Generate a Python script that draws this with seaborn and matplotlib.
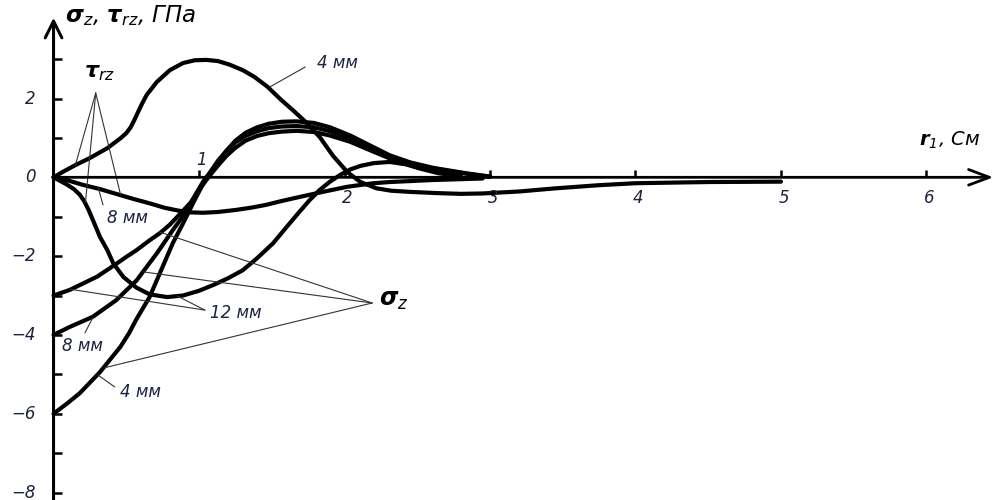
import numpy as np
import pandas as pd
import matplotlib
matplotlib.use("Agg")
import matplotlib.pyplot as plt
import seaborn as sns

# ---------------- data ----------------
tau4_x = [0, 0.07, 0.15, 0.25, 0.37, 0.46, 0.50, 0.53, 0.555, 0.58, 0.61, 0.64, 0.71, 0.80, 0.89, 0.97,
          1.05, 1.13, 1.21, 1.30, 1.38, 1.47, 1.56, 1.64, 1.72, 1.83, 1.92, 2.02, 2.11, 2.22, 2.32, 2.45,
          2.63, 2.80, 2.95, 3.20, 3.45, 3.75, 4.0, 4.5, 5.0]
tau4_y = [0, 0.15, 0.31, 0.49, 0.74, 0.99, 1.12, 1.27, 1.45, 1.65, 1.88, 2.09, 2.42, 2.72, 2.90, 2.97,
          2.98, 2.95, 2.86, 2.72, 2.55, 2.30, 1.98, 1.72, 1.45, 1.02, 0.55, 0.13, -0.12, -0.28, -0.34, -0.37,
          -0.40, -0.42, -0.41, -0.36, -0.28, -0.20, -0.15, -0.12, -0.11]

tau8_x = [0, 0.10, 0.20, 0.32, 0.43, 0.55, 0.66, 0.76, 0.85, 0.94, 1.03, 1.13, 1.25, 1.36, 1.46, 1.57,
          1.69, 1.85, 2.02, 2.20, 2.31, 2.60, 2.95]
tau8_y = [0, -0.08, -0.19, -0.30, -0.42, -0.55, -0.66, -0.77, -0.84, -0.89, -0.90, -0.88, -0.83, -0.77,
          -0.70, -0.60, -0.50, -0.37, -0.24, -0.15, -0.12, -0.07, -0.03]

tau12_x = [0, 0.09, 0.14, 0.18, 0.21, 0.24, 0.27, 0.32, 0.37, 0.41, 0.48, 0.57, 0.66, 0.78, 0.89, 1.00,
           1.10, 1.20, 1.30, 1.40, 1.51, 1.60, 1.68, 1.76, 1.83, 1.90, 1.97, 2.04, 2.11, 2.20, 2.31, 2.42,
           2.52, 2.65, 2.80]
tau12_y = [0, -0.18, -0.30, -0.44, -0.60, -0.82, -1.08, -1.52, -1.85, -2.18, -2.53, -2.80, -2.97, -3.04,
           -3.00, -2.88, -2.73, -2.56, -2.36, -2.05, -1.67, -1.27, -0.92, -0.58, -0.32, -0.11, 0.06, 0.20,
           0.29, 0.36, 0.39, 0.33, 0.22, 0.10, 0.03]

sig4_x = [0, 0.09, 0.18, 0.32, 0.46, 0.52, 0.57, 0.66, 0.73, 0.82, 0.89, 0.96, 1.02, 1.08, 1.13, 1.19,
          1.25, 1.32, 1.40, 1.48, 1.57, 1.67, 1.79, 1.90, 2.04, 2.18, 2.31, 2.45, 2.61, 2.84, 3.00]
sig4_y = [-6, -5.75, -5.48, -4.94, -4.30, -3.95, -3.60, -3.04, -2.44, -1.67, -1.17, -0.65, -0.22, 0.08,
          0.38, 0.68, 0.93, 1.13, 1.27, 1.36, 1.41, 1.42, 1.38, 1.27, 1.06, 0.80, 0.56, 0.38, 0.24, 0.10, 0.02]

sig8_x = [0, 0.11, 0.27, 0.43, 0.57, 0.71, 0.82, 0.92, 0.98, 1.03, 1.08, 1.13, 1.19, 1.25, 1.32, 1.40,
          1.48, 1.57, 1.67, 1.79, 1.90, 2.04, 2.18, 2.31, 2.45, 2.61, 2.84, 3.00]
sig8_y = [-4, -3.80, -3.54, -3.12, -2.62, -1.93, -1.34, -0.83, -0.41, -0.10, 0.15, 0.42, 0.68, 0.89,
          1.05, 1.17, 1.25, 1.29, 1.30, 1.27, 1.17, 0.98, 0.74, 0.52, 0.36, 0.22, 0.09, 0.01]

sig12_x = [0, 0.11, 0.20, 0.30, 0.41, 0.50, 0.57, 0.66, 0.73, 0.80, 0.89, 0.94, 1.00, 1.04, 1.09, 1.14,
           1.19, 1.25, 1.32, 1.40, 1.48, 1.57, 1.67, 1.79, 1.90, 2.04, 2.18, 2.31, 2.45, 2.60, 2.80]
sig12_y = [-3, -2.86, -2.70, -2.52, -2.25, -2.02, -1.85, -1.60, -1.42, -1.20, -0.85, -0.65, -0.33, -0.10,
           0.12, 0.34, 0.55, 0.75, 0.93, 1.05, 1.12, 1.16, 1.18, 1.15, 1.06, 0.90, 0.68, 0.48, 0.32, 0.18, 0.06]

x_ticks = [1, 2, 3, 4, 5, 6]
x_tick_labels = ["1", "2", "3", "4", "5", "6"]
y_ticks = list(range(-8, 4))
y_label_vals = [-8, -6, -4, -2, 0, 2]
y_tick_labels = ["\u22128", "\u22126", "\u22124", "\u22122", "0", "2"]

curves = {
    "tau4": (tau4_x, tau4_y), "tau8": (tau8_x, tau8_y), "tau12": (tau12_x, tau12_y),
    "sig4": (sig4_x, sig4_y), "sig8": (sig8_x, sig8_y), "sig12": (sig12_x, sig12_y),
}
frames = []
for name, (xs, ys) in curves.items():
    frames.append(pd.DataFrame({"r": xs, "v": ys, "curve": name}))
df = pd.concat(frames, ignore_index=True)

# ---------------- style ----------------
sns.set_theme(style="white")
plt.rcParams["font.family"] = ["DejaVu Sans"]
plt.rcParams["mathtext.fontset"] = "custom"
plt.rcParams["mathtext.it"] = "DejaVu Sans:italic"
plt.rcParams["mathtext.rm"] = "DejaVu Sans:italic"
plt.rcParams["mathtext.bf"] = "DejaVu Sans:bold:italic"

TXT = "#1c2340"
fig = plt.figure(figsize=(9.96, 5.0), dpi=100)
ax = fig.add_axes([0, 0, 1, 1])
ax.set_xlim(-0.368, 6.478)
ax.set_ylim(-8.19, 4.50)

sns.lineplot(data=df, x="r", y="v", hue="curve", units="curve", estimator=None, sort=False,
             palette={k: "black" for k in curves}, linewidth=3.0, legend=False, ax=ax,
             solid_capstyle="round", solid_joinstyle="round")

# axes drawn as arrows
for s in ax.spines.values():
    s.set_visible(False)
ax.spines["left"].set_position("zero")
ax.spines["bottom"].set_position("zero")
ax.annotate("", xy=(6.46, 0), xytext=(0, 0),
            arrowprops=dict(arrowstyle="->,head_length=0.75,head_width=0.28", lw=2.0, color="black",
                            mutation_scale=20, shrinkA=0, shrinkB=0))
ax.annotate("", xy=(0, 4.05), xytext=(0, -8.3),
            arrowprops=dict(arrowstyle="->,head_length=0.6,head_width=0.3", lw=2.2, color="black",
                            mutation_scale=20, shrinkA=0, shrinkB=0))

ax.set_xticks(x_ticks)
ax.set_yticks(y_ticks)
ax.set_xticklabels([])
ax.set_yticklabels([])
ax.tick_params(axis="x", direction="in", length=5, width=1.8, color="black", bottom=True)
ax.tick_params(axis="y", direction="in", length=6, width=1.8, color="black", left=True)
ax.set_xlabel("")
ax.set_ylabel("")
ax.grid(False)

# tick labels
for xv, lab in zip(x_ticks, x_tick_labels):
    yy = 0.45 if xv == 1 else -0.52
    ax.text(xv + 0.02, yy, lab, ha="center", va="center", fontsize=12, style="italic", color=TXT)
for yv, lab in zip(y_label_vals, y_tick_labels):
    ax.text(-0.125, yv, lab, ha="right", va="center", fontsize=12, style="italic", color=TXT)

# axis titles
ax.text(0.08, 4.1, r"$\mathbf{\sigma}_z$, $\mathbf{\tau}_{rz}$, ГПа", ha="left", va="center",
        fontsize=16.5, style="italic", color="black")
ax.text(5.95, 0.94, r"$\mathbf{r}_1$, См", ha="left", va="center", fontsize=14, style="italic", color="black")

# annotations
LC = "#333333"
def leader(p0, p1):
    ax.plot([p0[0], p1[0]], [p0[1], p1[1]], color=LC, lw=0.8)

# tau_rz label
ax.text(0.32, 2.64, r"$\mathbf{\tau}_{rz}$", ha="center", va="center", fontsize=16, color="black")
v = (0.29, 2.14)
leader(v, (tau4_x[2], tau4_y[2]))
leader(v, (0.22, -0.62))
leader(v, (0.46, -0.43))
# 8 mm (tau)
ax.text(0.505, -1.04, "8 мм", ha="center", va="center", fontsize=12, style="italic", color=TXT)
leader((0.306, -0.25), (0.34, -0.70))
# 4 mm (tau, top)
ax.text(1.95, 2.90, "4 мм", ha="center", va="center", fontsize=12, style="italic", color=TXT)
leader((1.73, 2.80), (1.49, 2.30))
# 12 mm
ax.text(1.25, -3.44, "12 мм", ha="center", va="center", fontsize=12, style="italic", color=TXT)
v = (1.04, -3.37)
leader(v, (0.113, -2.84))
leader(v, (0.85, -3.01))
# 8 mm (sigma)
ax.text(0.20, -4.28, "8 мм", ha="center", va="center", fontsize=12, style="italic", color=TXT)
leader((0.216, -3.95), (0.27, -3.56))
# 4 mm (sigma)
ax.text(0.60, -5.45, "4 мм", ha="center", va="center", fontsize=12, style="italic", color=TXT)
leader((0.42, -5.32), (0.306, -5.02))
# sigma_z
ax.text(2.24, -3.12, r"$\mathbf{\sigma}_z$", ha="left", va="center", fontsize=17, color="black")
v = (2.19, -3.19)
leader(v, (0.73, -1.39))
leader(v, (0.615, -2.40))
leader(v, (0.354, -4.83))

fig.savefig("out.png", dpi=100)
